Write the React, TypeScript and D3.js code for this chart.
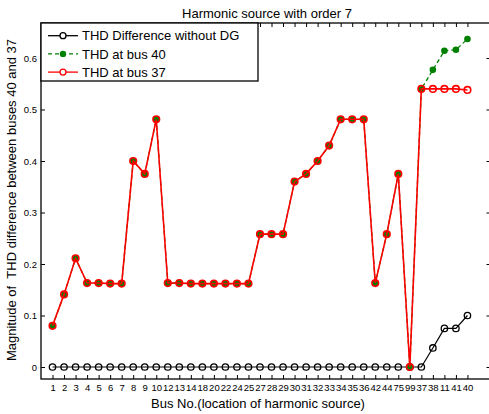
import React, { useRef, useEffect } from "react";
import * as d3 from "d3";

// bus where the harmonic source sits, in plotted order
const busLabels = [
  "1", "2", "3", "4", "5", "6", "7", "8", "9", "10", "12", "13", "14", "18",
  "20", "22", "24", "25", "27", "28", "29", "30", "31", "32", "33", "34", "35",
  "36", "42", "44", "75", "99", "37", "38", "11", "41", "40",
];

const thdNoDG = [
  0, 0, 0, 0, 0, 0, 0, 0, 0, 0, 0, 0, 0, 0, 0, 0, 0, 0, 0, 0, 0, 0, 0, 0, 0,
  0, 0, 0, 0, 0, 0, 0, 0, 0.037, 0.075, 0.075, 0.1,
];

const thdBus40 = [
  0.08, 0.141, 0.211, 0.163, 0.163, 0.162, 0.162, 0.4, 0.375, 0.481, 0.163,
  0.163, 0.162, 0.162, 0.162, 0.162, 0.162, 0.162, 0.258, 0.258, 0.258, 0.36,
  0.375, 0.4, 0.43, 0.481, 0.481, 0.481, 0.163, 0.258, 0.375, 0, 0.54, 0.577,
  0.614, 0.616, 0.637,
];

const thdBus37 = [
  0.08, 0.141, 0.211, 0.163, 0.163, 0.162, 0.162, 0.4, 0.375, 0.481, 0.163,
  0.163, 0.162, 0.162, 0.162, 0.162, 0.162, 0.162, 0.258, 0.258, 0.258, 0.36,
  0.375, 0.4, 0.43, 0.481, 0.481, 0.481, 0.163, 0.258, 0.375, 0, 0.54, 0.54,
  0.54, 0.54, 0.538,
];

const yTicks = [0, 0.1, 0.2, 0.3, 0.4, 0.5, 0.6];

const width = 489;
const height = 414;
const left = 41;
const right = 490.5;
const top = 23;
const bottom = 379;
const font = "'Liberation Sans', Arial, sans-serif";

export default function App() {
  const xAxisRef = useRef<SVGGElement>(null);
  const xTopRef = useRef<SVGGElement>(null);
  const yAxisRef = useRef<SVGGElement>(null);
  const yRightRef = useRef<SVGGElement>(null);

  const x = d3.scaleLinear().domain([0, 39]).range([left, right]);
  const y = d3.scaleLinear().domain([-0.0233, 0.668]).range([bottom, top]);
  const pos = busLabels.map((_, i) => i + 1);

  const line = d3
    .line<number>()
    .x((_, i) => x(pos[i]))
    .y((d) => y(d));

  useEffect(() => {
    const fmt = (d: number) => (d === 0 ? "0" : d.toFixed(1));

    const xb = d3
      .axisBottom(x)
      .tickValues(pos)
      .tickFormat((d) => busLabels[(d as number) - 1])
      .tickSizeInner(-4)
      .tickSizeOuter(0)
      .tickPadding(5);
    const gx = d3.select(xAxisRef.current).call(xb as any);
    gx.select(".domain").remove();
    gx.selectAll("text").attr("font-size", 9.5).attr("font-family", font).attr("fill", "#000");

    const xt = d3.axisTop(x).tickValues(pos).tickFormat(() => "").tickSizeInner(-4).tickSizeOuter(0);
    const gt = d3.select(xTopRef.current).call(xt as any);
    gt.select(".domain").remove();

    const yl = d3
      .axisLeft(y)
      .tickValues(yTicks)
      .tickFormat((d) => fmt(d as number))
      .tickSizeInner(-4)
      .tickSizeOuter(0)
      .tickPadding(4);
    const gy = d3.select(yAxisRef.current).call(yl as any);
    gy.select(".domain").remove();
    gy.selectAll("text").attr("font-size", 9.5).attr("font-family", font).attr("fill", "#000");

    const yr = d3.axisRight(y).tickValues(yTicks).tickFormat(() => "").tickSizeInner(-4).tickSizeOuter(0);
    const gr = d3.select(yRightRef.current).call(yr as any);
    gr.select(".domain").remove();
  }, []);

  const legendItems = [
    { label: "THD Difference without DG", kind: "black" },
    { label: "THD at bus 40", kind: "green" },
    { label: "THD at bus 37", kind: "red" },
  ];

  return (
    <svg
      width={width}
      height={height}
      style={{ position: "absolute", left: 0, top: 0, background: "#fff" }}
      fontFamily={font}
    >
      <rect width={width} height={height} fill="#fff" />

      <text x={267} y={17.5} fontSize={13} textAnchor="middle">
        Harmonic source with order 7
      </text>

      <g ref={xAxisRef} transform={`translate(0,${bottom})`} />
      <g ref={xTopRef} transform={`translate(0,${top})`} />
      <g ref={yAxisRef} transform={`translate(${left},0)`} />
      <g ref={yRightRef} transform={`translate(${right},0)`} />

      <rect
        x={left}
        y={top}
        width={right - left}
        height={bottom - top}
        fill="none"
        stroke="#000"
        strokeWidth={1.3}
      />

      {/* black: no DG */}
      <path d={line(thdNoDG) ?? ""} fill="none" stroke="#000" strokeWidth={1.2} />
      {thdNoDG.map((d, i) => (
        <circle key={`k${i}`} cx={x(pos[i])} cy={y(d)} r={3.2} fill="none" stroke="#000" strokeWidth={1.3} />
      ))}

      {/* green: bus 40 */}
      <path
        d={line(thdBus40) ?? ""}
        fill="none"
        stroke="#008000"
        strokeWidth={1.3}
        strokeDasharray="4,3"
      />
      {thdBus40.map((d, i) => (
        <circle key={`g${i}`} cx={x(pos[i])} cy={y(d)} r={3.3} fill="#008000" />
      ))}

      {/* red: bus 37 */}
      <path d={line(thdBus37) ?? ""} fill="none" stroke="#ff0000" strokeWidth={1.6} />
      {thdBus37.map((d, i) => (
        <circle key={`r${i}`} cx={x(pos[i])} cy={y(d)} r={3.3} fill="none" stroke="#ff0000" strokeWidth={1.6} />
      ))}

      {/* legend */}
      <rect x={left} y={top} width={217} height={58} fill="#fff" stroke="#000" strokeWidth={1.3} />
      {legendItems.map((it, i) => {
        const cy = 35.7 + i * 18.2;
        const color = it.kind === "black" ? "#000" : it.kind === "green" ? "#008000" : "#ff0000";
        return (
          <g key={it.label}>
            <line
              x1={48}
              x2={78}
              y1={cy}
              y2={cy}
              stroke={color}
              strokeWidth={1.3}
              strokeDasharray={it.kind === "green" ? "4,3" : undefined}
            />
            {it.kind === "green" ? (
              <circle cx={63} cy={cy} r={3.2} fill={color} />
            ) : (
              <circle cx={63} cy={cy} r={3} fill="#fff" stroke={color} strokeWidth={1.3} />
            )}
            <text x={82} y={cy} dy="0.36em" fontSize={13}>
              {it.label}
            </text>
          </g>
        );
      })}

      <text x={258} y={408} fontSize={13} textAnchor="middle">
        Bus No.(location of harmonic source)
      </text>
      <text
        transform={`translate(16,${(top + bottom) / 2 - 1}) rotate(-90)`}
        fontSize={13}
        textAnchor="middle"
      >
        Magnitude of {"\u00a0"}THD difference between buses 40 and 37
      </text>
    </svg>
  );
}
